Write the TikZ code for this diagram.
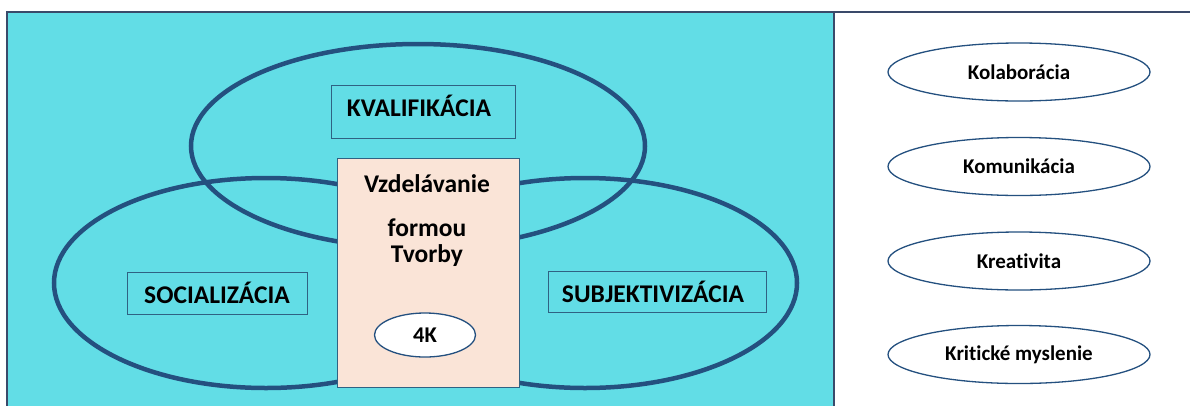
\documentclass[tikz,border=0pt]{standalone}
\usepackage{fontspec}
\setmainfont{Carlito}[Ligatures=NoCommon]
\usetikzlibrary{shapes.geometric}
\definecolor{pool}{HTML}{62DDE6}
\definecolor{ring}{HTML}{24507F}
\definecolor{edge}{HTML}{2F6283}
\definecolor{peach}{HTML}{FAE4D7}
\definecolor{frameline}{HTML}{3A4A6A}
\tikzset{
  ring/.style={draw=ring, line width=4.5pt, ellipse, inner sep=0pt},
  labelbox/.style={draw=edge, line width=1pt, rectangle, inner sep=0pt},
  lbl/.style={font=\bfseries\fontsize{25.5}{30}\selectfont, inner sep=0pt},
  skill/.style={draw=ring, line width=1.3pt, ellipse, fill=white, inner sep=0pt,
    minimum width=262pt, minimum height=58pt, font=\bfseries\fontsize{21}{26}\selectfont},
}
\begin{document}
\begin{tikzpicture}[x=1pt,y=-1pt]
\useasboundingbox (0,0) rectangle (1190,405);
\clip (0,0) rectangle (1190,405);
% left panel with the three overlapping circles of aims
\fill[pool] (7,12) rectangle (834,420);
\draw[frameline, line width=1.2pt] (7,420) -- (7,12) -- (1190,12);
\draw[frameline, line width=1.2pt] (834,12) -- (834,420);

\node[ring, minimum width=454pt, minimum height=204pt] (kval) at (418,146) {};
\node[ring, minimum width=424pt, minimum height=210pt] (soc) at (266,283) {};
\node[ring, minimum width=424pt, minimum height=210pt] (subj) at (585,283) {};

\node[labelbox, minimum width=184pt, minimum height=53pt] (kvalbox) at (423,111.5) {};
\node[lbl] (kvaltxt) at (419,106) {KVALIFIKÁCIA};
\node[labelbox, minimum width=180pt, minimum height=42pt] (socbox) at (217,293) {};
\node[lbl] (soctxt) at (217,293) {SOCIALIZÁCIA};
\node[labelbox, minimum width=218pt, minimum height=41pt] (subjbox) at (657,291.5) {};
\node[lbl] (subjtxt) at (653,291.5) {SUBJEKTIVIZÁCIA};

% central block
\node[draw=edge, line width=1pt, fill=peach, rectangle, inner sep=0pt,
      minimum width=182pt, minimum height=229pt] (core) at (428,272.5) {};
\node[lbl] (t1) at (427,184) {Vzdelávanie};
\node[lbl] (t2) at (427,228) {formou};
\node[lbl] (t3) at (427,256) {Tvorby};
\node[draw=ring, line width=1.3pt, ellipse, fill=white, inner sep=0pt,
      minimum width=101pt, minimum height=44pt, font=\bfseries\fontsize{22.5}{26}\selectfont]
      (fourk) at (425,335) {4K};

% right panel: the four competences
\node[skill] (kol) at (1019,72) {Kolaborácia};
\node[skill] (kom) at (1019,166.5) {Komunikácia};
\node[skill] (kre) at (1019,261) {Kreativita};
\node[skill] (kri) at (1019,354.5) {Kritické myslenie};
\end{tikzpicture}
\end{document}
